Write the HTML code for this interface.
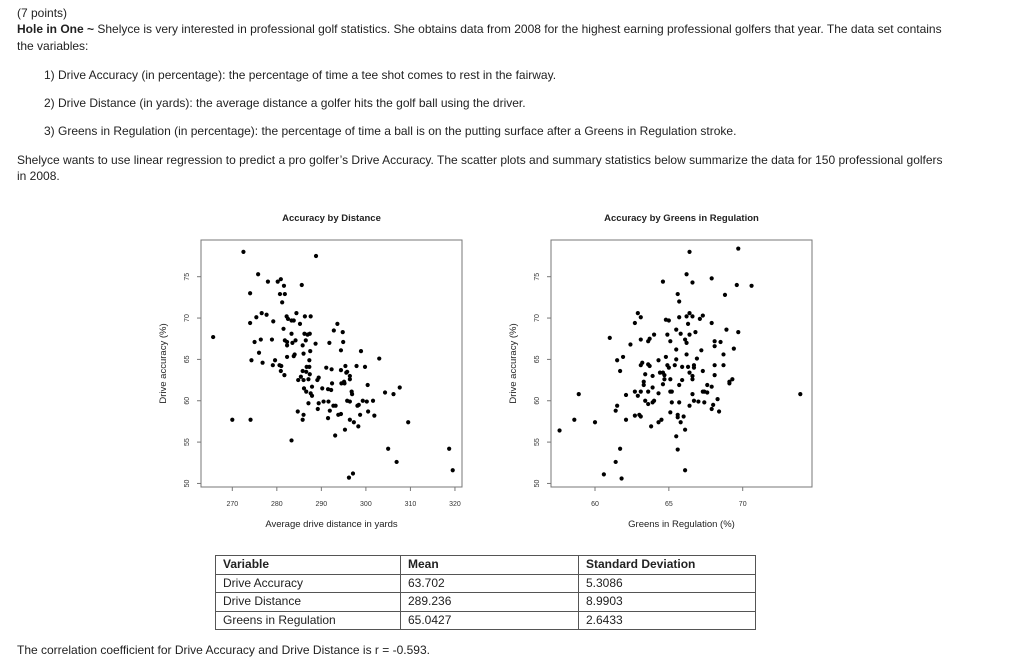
<!DOCTYPE html>
<html><head><meta charset="utf-8"><style>
body{margin:0;width:1024px;height:670px;background:#fff;font-family:"Liberation Sans",Arial,sans-serif;font-size:12px;color:#222;position:relative;overflow:hidden}
.t{position:absolute;white-space:nowrap}
table{position:absolute;left:215px;top:555px;border-collapse:collapse;font-size:12px}
td{border:1px solid #555;padding:0 0 0 7px;height:17.5px;line-height:17px}
</style></head><body>
<div class="t" style="left:17px;top:6px">(7 points)</div>
<div class="t" style="left:17px;top:22px"><b>Hole in One ~</b> Shelyce is very interested in professional golf statistics. She obtains data from 2008 for the highest earning professional golfers that year. The data set contains</div>
<div class="t" style="left:17px;top:39px">the variables:</div>
<div class="t" style="left:44px;top:68px">1) Drive Accuracy (in percentage): the percentage of time a tee shot comes to rest in the fairway.</div>
<div class="t" style="left:44px;top:96px">2) Drive Distance (in yards): the average distance a golfer hits the golf ball using the driver.</div>
<div class="t" style="left:44px;top:124px">3) Greens in Regulation (in percentage): the percentage of time a ball is on the putting surface after a Greens in Regulation stroke.</div>
<div class="t" style="left:17px;top:153px">Shelyce wants to use linear regression to predict a pro golfer’s Drive Accuracy. The scatter plots and summary statistics below summarize the data for 150 professional golfers</div>
<div class="t" style="left:17px;top:169px">in 2008.</div>

<svg id="charts" width="1024" height="670" style="position:absolute;left:0;top:0"></svg>

<table>
<tr><td style="width:177px"><b>Variable</b></td><td style="width:170px"><b>Mean</b></td><td style="width:169px"><b>Standard Deviation</b></td></tr>
<tr><td>Drive Accuracy</td><td>63.702</td><td>5.3086</td></tr>
<tr><td>Drive Distance</td><td>289.236</td><td>8.9903</td></tr>
<tr><td>Greens in Regulation</td><td>65.0427</td><td>2.6433</td></tr>
</table>
<div class="t" style="left:17px;top:643px">The correlation coefficient for Drive Accuracy and Drive Distance is r = -0.593.</div>

<script>
const distX=[265.7,270,272.5,275.8,278,274,274,274.1,274.3,275,275.4,276,276.4,276.6,276.8,277.7,278.9,279.1,279.2,279.6,280.2,280.6,280.7,280.9,281.2,281,280.9,281.5,281.6,281.8,281.8,281.7,282.2,282.3,282.3,282.5,282.3,283.3,283.3,283.5,283.3,283.8,283.8,284,284.2,284.4,284.7,285.2,284.8,285.6,285.4,285.8,286,285.8,286,285.8,286,286.1,286.3,286.2,286.5,286.6,286.6,286.7,286.9,287.1,287.1,287.3,287.3,287.4,287.4,287.5,287.6,287.6,287.9,287.9,288.7,288.8,289.1,289.4,289.2,289.4,290.2,290.5,291.1,291.5,291.5,291.6,291.8,291.9,292.2,292.3,292.4,292.7,292.8,293.1,293.2,293.6,293.8,294.4,294.4,294.4,294.5,294.8,294.9,295.1,295.2,295.4,295.3,295.6,295.8,295.8,296.2,296.4,296.4,296.4,296.4,296.8,296.9,297.1,297.3,297.9,298.1,298.3,298.4,298.7,298.9,299.3,299.8,300.2,300.4,300.5,301.6,301.9,303,304.3,305,306.2,306.9,307.6,309.5,318.7,319.5];
const distY=[67.7,57.7,78,75.3,74.4,73,69.4,57.7,64.9,67.1,70.1,65.8,67.4,70.6,64.6,70.4,67.4,64.3,69.6,64.9,74.4,64.3,72.9,74.7,71.9,64.2,63.6,68.7,73.9,72.9,67.3,63.1,70.2,66.7,65.3,69.9,67.1,69.7,68.1,67,55.2,69.7,65.4,65.6,67.3,70.6,58.7,69.3,62.5,74,62.9,57.7,58.3,66.7,65.7,63.6,62.5,61.5,70.2,68.1,67.3,63.5,61.1,64.1,68,62.6,59.7,64.9,64.1,68.1,63.2,66,70.2,60.9,61.7,60.6,66.9,77.5,62.5,62.8,59,59.7,61.5,59.9,64,61.4,57.9,59.9,67,58.8,61.3,63.8,62.1,59.4,68.5,55.8,59.4,69.3,58.3,58.4,66.1,63.7,62.1,68.3,67.1,62.3,62.1,64.2,56.5,63.4,63.5,60,50.7,63,62.6,59.9,57.7,61.1,60.8,51.2,57.4,64.2,59.4,56.9,59.5,58.3,66,60,64.1,59.9,61.9,58.7,60,58.2,65.1,61,54.2,60.8,52.6,61.6,57.4,54.2,51.6];
const girX=[57.6,58.6,58.9,60,60.6,61,61.4,61.5,61.4,61.5,61.7,61.7,61.8,61.9,62.1,62.1,62.4,62.7,62.7,62.7,62.9,62.9,63,63.1,63.1,63.1,63.1,63.1,63.2,63.3,63.3,63.4,63.4,63.6,63.6,63.6,63.6,63.7,63.7,63.8,63.9,63.9,63.9,64,64,64.3,64.3,64.3,64.4,64.5,64.6,64.6,64.6,64.7,64.7,64.8,64.8,64.9,64.9,65,65,65.1,65.1,65.1,65.1,65.2,65.2,65.4,65.5,65.5,65.5,65.5,65.6,65.6,65.6,65.6,65.7,65.7,65.7,65.7,65.8,65.8,65.9,65.9,66,66.1,66.1,66.1,66.2,66.2,66.2,66.2,66.3,66.3,66.4,66.4,66.4,66.4,66.4,66.6,66.6,66.6,66.6,66.6,66.7,66.7,66.7,66.8,66.9,67,67.1,67.2,67.3,67.3,67.3,67.4,67.4,67.6,67.6,67.9,67.9,67.9,67.9,68,68.1,68.1,68.1,68.1,68.3,68.4,68.5,68.7,68.7,68.8,68.9,69.1,69.1,69.3,69.4,69.6,69.7,69.7,70.6,73.9];
const girY=[56.4,57.7,60.8,57.4,51.1,67.6,58.8,59.4,52.6,64.9,63.6,54.2,50.6,65.3,60.7,57.7,66.8,69.4,61.1,58.2,70.6,60.6,58.3,70.1,67.4,64.3,58.1,61.1,64.6,62.3,61.9,60,63.2,67.2,59.6,64.4,61.1,64.2,67.5,56.9,59.8,63,61.6,68,60,64.9,57.4,60.9,63.4,57.7,62,63.4,74.4,63.1,62.6,65.3,69.8,68,64.3,64,69.7,58.6,62.6,67.2,61.1,59.8,61.1,64.3,65,68.6,66.2,55.7,72.9,58.3,54.1,58,72,70.1,61.9,59.8,68.1,57.4,64.1,62.5,58.1,56.5,51.6,67.4,67,75.3,70.2,65.6,64.1,69.3,68,78,70.6,63.4,59.4,63,60.8,74.3,70.2,62.6,64.3,64,60,68.3,65.1,59.9,69.9,66.1,70.3,61.1,63.6,61.1,59.8,61,61.9,74.8,59,61.7,69.4,59.5,67.2,66.6,64.3,63.1,60.2,58.7,67.1,65.6,64.3,72.8,68.6,62.3,62.1,62.6,66.3,74,78.4,68.3,73.9,60.8];
const yTicks=[50,55,60,65,70,75];
const distTicks=[270,280,290,300,310,320];
const girTicks=[60,65,70];

const NS='http://www.w3.org/2000/svg';
const svg=document.getElementById('charts');
function mk(tag,attrs,parent){const e=document.createElementNS(NS,tag);for(const k in attrs)e.setAttribute(k,attrs[k]);(parent||svg).appendChild(e);return e;}
const yScale=v=>276.7+(75-v)*8.27;

function plot(name,left,right,x0,xp0,pxPer,xs,ys,xt,title,xlabel){
  const g=mk('g',{});
  
  
  const xScale=v=>xp0+(v-x0)*pxPer;
  const box=mk('rect',{x:left,y:240,width:right-left,height:247,fill:'none',stroke:'#777','stroke-width':1},g);
  
  
  const ttl=mk('text',{x:(left+right)/2,y:221,'text-anchor':'middle','font-size':'9.5','font-weight':'bold','font-family':'Liberation Sans,Arial,sans-serif',fill:'#222'},g);
  ttl.textContent=title;
  
  
  const xl=mk('text',{x:(left+right)/2,y:527,'text-anchor':'middle','font-size':'9.5','font-family':'Liberation Sans,Arial,sans-serif',fill:'#222'},g);
  xl.textContent=xlabel;
  
  
  const yl=mk('text',{x:0,y:0,transform:`translate(${left-35},${(240+487)/2}) rotate(-90)`,'text-anchor':'middle','font-size':'9.5','font-family':'Liberation Sans,Arial,sans-serif',fill:'#222'},g);
  yl.textContent='Drive accuracy (%)';
  
  
  xt.forEach(t=>{
    const x=xScale(t);
    mk('line',{x1:x,x2:x,y1:487,y2:491,stroke:'#777'},g);
    const tx=mk('text',{x:x,y:506,'text-anchor':'middle','font-size':'7','font-family':'Liberation Sans,Arial,sans-serif',fill:'#333'},g);
    tx.textContent=t;
    
    
  });
  yTicks.forEach(t=>{
    const y=yScale(t);
    mk('line',{x1:left-4,x2:left,y1:y,y2:y,stroke:'#777'},g);
    const tx=mk('text',{x:0,y:0,transform:`translate(${left-12},${y}) rotate(-90)`,'text-anchor':'middle','font-size':'7','font-family':'Liberation Sans,Arial,sans-serif',fill:'#333'},g);
    tx.textContent=t;
    
    
  });
  xs.forEach((v,i)=>{
    const c=mk('circle',{cx:xScale(v),cy:yScale(ys[i]),r:2.1,fill:'#000'},g);
    
    
  });
}
plot('accuracy-by-distance-chart',201,462,270,232.3,4.453,distX,distY,distTicks,'Accuracy by Distance','Average drive distance in yards');
plot('accuracy-by-greens-chart',551,812,60,595,14.77,girX,girY,girTicks,'Accuracy by Greens in Regulation','Greens in Regulation (%)');
</script>
</body></html>
